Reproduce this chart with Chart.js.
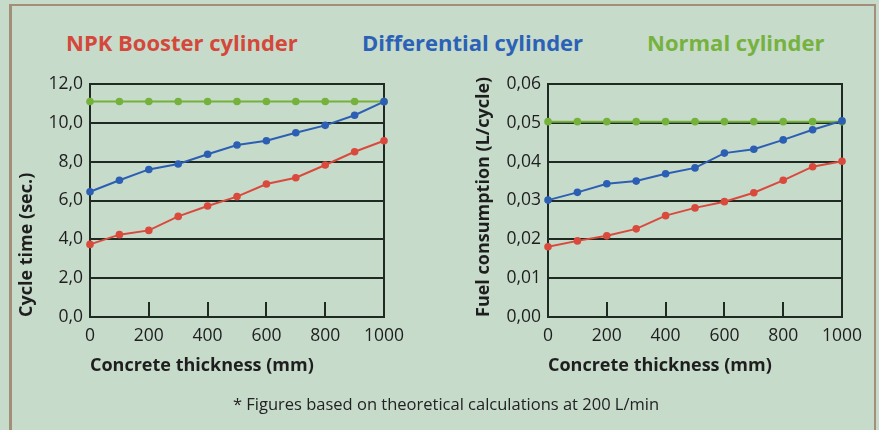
<!DOCTYPE html>
<html>
<head>
<meta charset="utf-8">
<script src="https://cdn.jsdelivr.net/npm/chart.js@4.4.1/dist/chart.umd.min.js"></script>
<style>
  html, body { margin: 0; padding: 0; }
  body { width: 879px; height: 430px; background: #c7dbcb; position: relative; overflow: hidden; font-family: "Open Sans", sans-serif; }
  .frame { position: absolute; left: 9px; top: 4px; width: 862px; height: 440px; border-left: 3px solid #a38e7a; border-top: 2px solid #a38e7a; border-right: 2px solid #a38e7a; }
  .legend { position: absolute; top: 27px; font-weight: bold; font-size: 22px; line-height: 30px; white-space: nowrap; }
  .note { position: absolute; top: 392px; left: 0; width: 892px; text-align: center; font-size: 16.5px; color: #222; white-space: nowrap; }
  .box { position: absolute; top: 0; height: 430px; }
</style>
</head>
<body>
<div class="frame"></div>
<div class="legend" style="left:66px;color:#d4483b">NPK Booster cylinder</div>
<div class="legend" style="left:362px;color:#2c62b6">Differential cylinder</div>
<div class="legend" style="left:647px;color:#76b23f">Normal cylinder</div>
<div class="box" style="left:0;width:440px"><canvas id="timeChart"></canvas></div>
<div class="box" style="left:440px;width:439px"><canvas id="fuelChart"></canvas></div>
<div class="note">* Figures based on theoretical calculations at 200 L/min</div>

<script>
// concrete thickness (mm)
const thickness = [0, 100, 200, 300, 400, 500, 600, 700, 800, 900, 1000];

// cycle time (sec.)
const timeBooster = [3.74, 4.24, 4.46, 5.18, 5.72, 6.2, 6.85, 7.17, 7.83, 8.51, 9.08];
const timeDifferential = [6.45, 7.04, 7.6, 7.88, 8.38, 8.86, 9.08, 9.49, 9.87, 10.39, 11.09];
const timeNormal = [11.1, 11.1, 11.1, 11.1, 11.1, 11.1, 11.1, 11.1, 11.1, 11.1, 11.1];

// fuel consumption (L/cycle)
const fuelBooster = [0.0181, 0.0196, 0.0209, 0.0227, 0.0261, 0.0281, 0.0297, 0.032, 0.0352, 0.0387, 0.0401];
const fuelDifferential = [0.0301, 0.0321, 0.0343, 0.035, 0.0369, 0.0384, 0.0422, 0.0432, 0.0456, 0.0482, 0.0505];
const fuelNormal = [0.0503, 0.0503, 0.0503, 0.0503, 0.0503, 0.0503, 0.0503, 0.0503, 0.0503, 0.0503, 0.0503];

const seriesNames = ['NPK Booster cylinder', 'Differential cylinder', 'Normal cylinder'];
const seriesColors = ['#d94a3d', '#2c5fb3', '#74b23c'];
const xTickMarks = [200, 400, 600, 800];

const ink = '#1f2a22';

function toPoints(values) {
    return thickness.map((x, i) => ({ x: x, y: values[i] }));
}

function makeDatasets(lists) {
    return lists.map((values, i) => ({
        label: seriesNames[i],
        data: toPoints(values),
        borderColor: seriesColors[i],
        backgroundColor: seriesColors[i],
        borderWidth: 2,
        pointRadius: 3.8,
        pointBorderWidth: 0,
        tension: 0,
        clip: false
    }));
}

// frame round the plot area and the small inner tick marks on the x axis
const plotFrame = {
    id: 'plotFrame',
    beforeDatasetsDraw(chart) {
        const ctx = chart.ctx;
        const a = chart.chartArea;
        const xs = chart.scales.x;
        ctx.save();
        ctx.strokeStyle = ink;
        ctx.lineWidth = 2;
        ctx.strokeRect(a.left, a.top, a.right - a.left, a.bottom - a.top);
        xTickMarks.forEach(v => {
            const px = Math.round(xs.getPixelForValue(v));
            ctx.beginPath();
            ctx.moveTo(px, a.bottom);
            ctx.lineTo(px, a.bottom - 15);
            ctx.stroke();
        });
        ctx.restore();
    }
};

function makeChart(id, lists, yMax, yStep, digits, yTitle, pad, yWidth) {
    return new Chart(document.getElementById(id), {
        type: 'line',
        data: { datasets: makeDatasets(lists) },
        plugins: [plotFrame],
        options: {
            responsive: true,
            maintainAspectRatio: false,
            animation: false,
            layout: { padding: pad },
            plugins: {
                legend: { display: false },
                tooltip: { enabled: false }
            },
            scales: {
                x: {
                    type: 'linear',
                    min: 0,
                    max: 1000,
                    grid: { display: false, drawTicks: false },
                    border: { display: false },
                    ticks: {
                        stepSize: 200,
                        padding: 9,
                        color: '#1e1e1e',
                        font: { family: 'Open Sans', size: 17.5 },
                        maxRotation: 0,
                        callback: v => String(v)
                    },
                    title: {
                        display: true,
                        text: 'Concrete thickness (mm)',
                        align: 'start',
                        color: '#1e1e1e',
                        padding: 0,
                        font: { family: 'Open Sans', size: 18, weight: 'bold' }
                    },
                    afterFit(scale) { scale.height = 60; }
                },
                y: {
                    min: 0,
                    max: yMax,
                    grid: { color: ink, lineWidth: 2, drawTicks: false },
                    border: { display: false },
                    ticks: {
                        stepSize: yStep,
                        padding: 7,
                        color: '#1e1e1e',
                        font: { family: 'Open Sans', size: 17.5 },
                        callback: v => v.toFixed(digits).replace('.', ',')
                    },
                    title: {
                        display: true,
                        text: yTitle,
                        align: 'start',
                        color: '#1e1e1e',
                        padding: 0,
                        font: { family: 'Open Sans', size: 18, weight: 'bold' }
                    },
                    afterFit(scale) { scale.width = yWidth; }
                }
            }
        }
    });
}

makeChart('timeChart', [timeBooster, timeDifferential, timeNormal], 12, 2, 1,
    'Cycle time (sec.)', { left: 16, right: 56, top: 84, bottom: 53 }, 74);
makeChart('fuelChart', [fuelBooster, fuelDifferential, fuelNormal], 0.06, 0.01, 2,
    'Fuel consumption (L/cycle)', { left: 33, right: 37, top: 84, bottom: 53 }, 75);
</script>
</body>
</html>
